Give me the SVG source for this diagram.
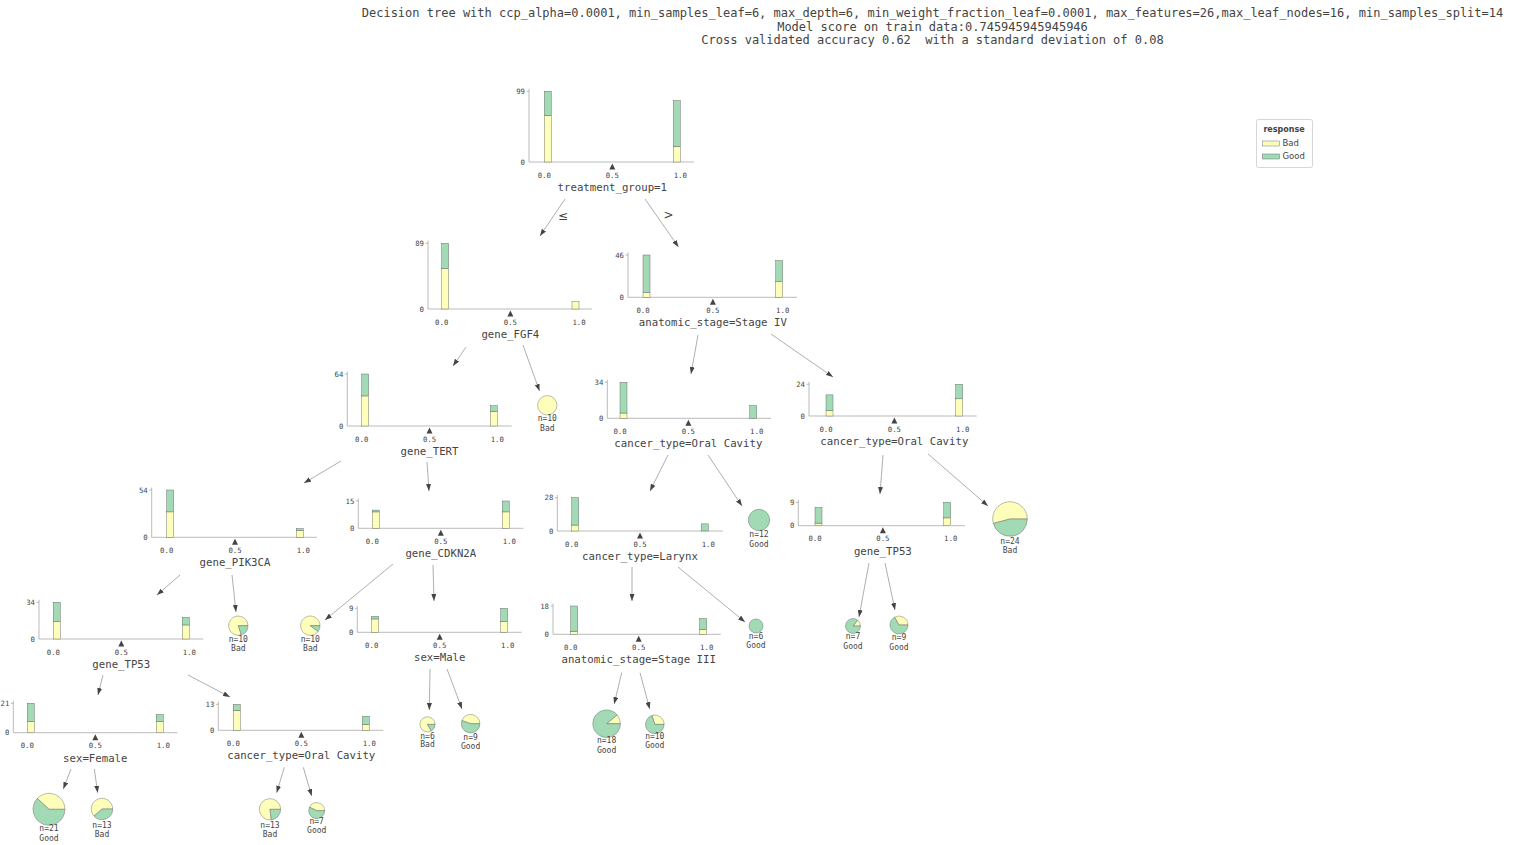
<svg xmlns="http://www.w3.org/2000/svg" width="1518" height="845" viewBox="0 0 1518 845">
<style>
.ax{stroke:#aaa;stroke-width:0.8;fill:none}
.bad{fill:#fefebb;stroke:#555;stroke-width:0.4}
.good{fill:#a1dab4;stroke:#555;stroke-width:0.4}
.yt{font-family:"DejaVu Sans Mono",monospace;font-size:7.3px;fill:#444;text-anchor:end}
.xt{font-family:"DejaVu Sans Mono",monospace;font-size:7.3px;fill:#444;text-anchor:middle}
.lbl{font-family:"DejaVu Sans Mono",monospace;font-size:10.7px;fill:#444;text-anchor:middle}
.lf{font-family:"DejaVu Sans Mono",monospace;font-size:8px;fill:#444;text-anchor:middle}
.tri{fill:#444}
.ttl{font-family:"DejaVu Sans Mono",monospace;font-size:12px;fill:#444;text-anchor:middle;white-space:pre}
.edge{stroke:#777;stroke-width:0.6;fill:none;marker-end:url(#ah)}
.el{font-family:"DejaVu Sans",sans-serif;font-size:12px;fill:#444;text-anchor:middle}
.lg{font-family:"DejaVu Sans",sans-serif;font-size:8.5px;fill:#444}
</style>
<defs>
<marker id="ah" markerUnits="userSpaceOnUse" markerWidth="7" markerHeight="5" refX="7" refY="2.5" orient="auto">
<path d="M0,0 L7,2.5 L0,5 z" fill="#444"/>
</marker>
</defs>
<rect width="1518" height="845" fill="#fff"/>
<g id="title">
<text class="ttl" x="932.5" y="17">Decision tree with ccp_alpha=0.0001, min_samples_leaf=6, max_depth=6, min_weight_fraction_leaf=0.0001, max_features=26,max_leaf_nodes=16, min_samples_split=14</text>
<text class="ttl" x="932.5" y="30.5">Model score on train data:0.745945945945946</text>
<text class="ttl" x="932.5" y="44" xml:space="preserve">Cross validated accuracy 0.62  with a standard deviation of 0.08</text>
</g>
<g id="legend">
<rect x="1256.5" y="119.5" width="56" height="48" rx="2" fill="#fff" stroke="#ccc" stroke-width="0.8"/>
<text x="1284" y="132" style="font-family:'DejaVu Sans',sans-serif;font-size:8px;font-weight:bold;fill:#444;text-anchor:middle">response</text>
<rect class="bad" x="1262.5" y="141" width="17" height="5"/>
<text class="lg" x="1282.5" y="146">Bad</text>
<rect class="good" x="1262.5" y="154" width="17" height="5"/>
<text class="lg" x="1282.5" y="159">Good</text>
</g>
<g id="edges">
<line class="edge" x1="565" y1="199" x2="540" y2="236"/>
<line class="edge" x1="645" y1="199" x2="678.5" y2="247"/>
<line class="edge" x1="466" y1="347" x2="453" y2="366"/>
<line class="edge" x1="523" y1="345" x2="539.5" y2="391"/>
<line class="edge" x1="698" y1="335" x2="691" y2="374"/>
<line class="edge" x1="771" y1="334" x2="833" y2="377"/>
<line class="edge" x1="341" y1="461" x2="304" y2="483"/>
<line class="edge" x1="427" y1="462" x2="429" y2="491"/>
<line class="edge" x1="668" y1="455" x2="650" y2="491"/>
<line class="edge" x1="708" y1="455" x2="742" y2="506"/>
<line class="edge" x1="883" y1="455" x2="880" y2="494"/>
<line class="edge" x1="928" y1="454" x2="988" y2="506"/>
<line class="edge" x1="180" y1="575" x2="157" y2="595"/>
<line class="edge" x1="232" y1="575" x2="236" y2="612"/>
<line class="edge" x1="393" y1="564" x2="325" y2="620"/>
<line class="edge" x1="433" y1="565" x2="434" y2="601"/>
<line class="edge" x1="632" y1="567" x2="632" y2="601"/>
<line class="edge" x1="678" y1="567" x2="745" y2="622"/>
<line class="edge" x1="869" y1="563" x2="859" y2="617"/>
<line class="edge" x1="885" y1="563" x2="895" y2="610"/>
<line class="edge" x1="103" y1="675" x2="98" y2="695"/>
<line class="edge" x1="188" y1="675" x2="230" y2="697"/>
<line class="edge" x1="430" y1="669" x2="429.3" y2="710"/>
<line class="edge" x1="447" y1="669" x2="462" y2="709"/>
<line class="edge" x1="621.7" y1="672.7" x2="614.2" y2="704"/>
<line class="edge" x1="640" y1="672.7" x2="649.7" y2="709"/>
<line class="edge" x1="71" y1="769" x2="63.3" y2="789"/>
<line class="edge" x1="94.3" y1="769" x2="97.7" y2="792.7"/>
<line class="edge" x1="284.3" y1="767.3" x2="276.7" y2="792.7"/>
<line class="edge" x1="303.3" y1="767.3" x2="311.7" y2="796"/>
<text class="el" x="563" y="220">≤</text>
<text class="el" x="668.5" y="219">&gt;</text>
</g>

<g id="n_treatment_group">
<line class="ax" x1="529" y1="162" x2="694" y2="162"/>
<line class="ax" x1="529" y1="88.8" x2="529" y2="162"/>
<line class="ax" x1="526.5" y1="91.3" x2="529" y2="91.3"/>
<text class="yt" x="525" y="93.8">99</text>
<text class="yt" x="525" y="164.5">0</text>
<rect class="bad" x="544.3" y="115.58" width="7" height="46.42"/>
<rect class="good" x="544.3" y="91.3" width="7" height="24.28"/>
<rect class="bad" x="673.3" y="146.29" width="7" height="15.71"/>
<rect class="good" x="673.3" y="100.59" width="7" height="45.70"/>
<text class="xt" x="544.3" y="177.5">0.0</text>
<text class="xt" x="612.3" y="177.5">0.5</text>
<text class="xt" x="680.3" y="177.5">1.0</text>
<polygon class="tri" points="609.3,169.5 615.3,169.5 612.3,163.5"/>
<text class="lbl" x="612.3" y="191">treatment_group=1</text>
</g>

<g id="n_gene_FGF4">
<line class="ax" x1="428" y1="309" x2="592" y2="309"/>
<line class="ax" x1="428" y1="240.8" x2="428" y2="309"/>
<line class="ax" x1="425.5" y1="243.3" x2="428" y2="243.3"/>
<text class="yt" x="424" y="245.8">89</text>
<text class="yt" x="424" y="311.5">0</text>
<rect class="bad" x="441.7" y="268.40" width="7" height="40.60"/>
<rect class="good" x="441.7" y="243.30" width="7" height="25.10"/>
<rect class="bad" x="572" y="301.62" width="7" height="7.38"/>
<text class="xt" x="441.7" y="324.5">0.0</text>
<text class="xt" x="510.35" y="324.5">0.5</text>
<text class="xt" x="579" y="324.5">1.0</text>
<polygon class="tri" points="507.35,316.5 513.35,316.5 510.35,310.5"/>
<text class="lbl" x="510.35" y="338">gene_FGF4</text>
</g>

<g id="n_anatomic_stage_IV">
<line class="ax" x1="628" y1="297.3" x2="797" y2="297.3"/>
<line class="ax" x1="628" y1="252.5" x2="628" y2="297.3"/>
<line class="ax" x1="625.5" y1="255" x2="628" y2="255"/>
<text class="yt" x="624" y="257.5">46</text>
<text class="yt" x="624" y="299.8">0</text>
<rect class="bad" x="643" y="292.70" width="7" height="4.60"/>
<rect class="good" x="643" y="255.0" width="7" height="37.70"/>
<rect class="bad" x="775.7" y="281.67" width="7" height="15.63"/>
<rect class="good" x="775.7" y="260.52" width="7" height="21.15"/>
<text class="xt" x="643" y="312.8">0.0</text>
<text class="xt" x="712.85" y="312.8">0.5</text>
<text class="xt" x="782.7" y="312.8">1.0</text>
<polygon class="tri" points="709.85,304.8 715.85,304.8 712.85,298.8"/>
<text class="lbl" x="712.85" y="326.3">anatomic_stage=Stage IV</text>
</g>

<g id="n_gene_TERT">
<line class="ax" x1="347.3" y1="426" x2="511.7" y2="426"/>
<line class="ax" x1="347.3" y1="371.5" x2="347.3" y2="426"/>
<line class="ax" x1="344.8" y1="374" x2="347.3" y2="374"/>
<text class="yt" x="343.3" y="376.5">64</text>
<text class="yt" x="343.3" y="428.5">0</text>
<rect class="bad" x="361.7" y="395.94" width="7" height="30.06"/>
<rect class="good" x="361.7" y="374.0" width="7" height="21.94"/>
<rect class="bad" x="490.3" y="411.37" width="7" height="14.63"/>
<rect class="good" x="490.3" y="405.69" width="7" height="5.69"/>
<text class="xt" x="361.7" y="441.5">0.0</text>
<text class="xt" x="429.5" y="441.5">0.5</text>
<text class="xt" x="497.3" y="441.5">1.0</text>
<polygon class="tri" points="426.5,433.5 432.5,433.5 429.5,427.5"/>
<text class="lbl" x="429.5" y="455">gene_TERT</text>
</g>

<g id="n_cancer_type_oc_left">
<line class="ax" x1="607.3" y1="418.3" x2="771" y2="418.3"/>
<line class="ax" x1="607.3" y1="379.8" x2="607.3" y2="418.3"/>
<line class="ax" x1="604.8" y1="382.3" x2="607.3" y2="382.3"/>
<text class="yt" x="603.3" y="384.8">34</text>
<text class="yt" x="603.3" y="420.8">0</text>
<rect class="bad" x="620" y="413.01" width="7" height="5.29"/>
<rect class="good" x="620" y="382.3" width="7" height="30.71"/>
<rect class="good" x="749.7" y="405.59" width="7" height="12.71"/>
<text class="xt" x="620" y="433.8">0.0</text>
<text class="xt" x="688.35" y="433.8">0.5</text>
<text class="xt" x="756.7" y="433.8">1.0</text>
<polygon class="tri" points="685.35,425.8 691.35,425.8 688.35,419.8"/>
<text class="lbl" x="688.35" y="447.3">cancer_type=Oral Cavity</text>
</g>

<g id="n_cancer_type_oc_right">
<line class="ax" x1="809" y1="416" x2="976.7" y2="416"/>
<line class="ax" x1="809" y1="381.8" x2="809" y2="416"/>
<line class="ax" x1="806.5" y1="384.3" x2="809" y2="384.3"/>
<text class="yt" x="805" y="386.8">24</text>
<text class="yt" x="805" y="418.5">0</text>
<rect class="bad" x="826" y="410.72" width="7" height="5.28"/>
<rect class="good" x="826" y="394.87" width="7" height="15.85"/>
<rect class="bad" x="955.7" y="398.83" width="7" height="17.17"/>
<rect class="good" x="955.7" y="384.30" width="7" height="14.53"/>
<text class="xt" x="826" y="431.5">0.0</text>
<text class="xt" x="894.35" y="431.5">0.5</text>
<text class="xt" x="962.7" y="431.5">1.0</text>
<polygon class="tri" points="891.35,423.5 897.35,423.5 894.35,417.5"/>
<text class="lbl" x="894.35" y="445">cancer_type=Oral Cavity</text>
</g>

<g id="n_gene_PIK3CA">
<line class="ax" x1="151.7" y1="537.3" x2="316.7" y2="537.3"/>
<line class="ax" x1="151.7" y1="487.5" x2="151.7" y2="537.3"/>
<line class="ax" x1="149.2" y1="490" x2="151.7" y2="490"/>
<text class="yt" x="147.7" y="492.5">54</text>
<text class="yt" x="147.7" y="539.8">0</text>
<rect class="bad" x="166.7" y="511.90" width="7" height="25.40"/>
<rect class="good" x="166.7" y="490.0" width="7" height="21.90"/>
<rect class="bad" x="296.3" y="530.29" width="7" height="7.01"/>
<rect class="good" x="296.3" y="528.54" width="7" height="1.75"/>
<text class="xt" x="166.7" y="552.8">0.0</text>
<text class="xt" x="235" y="552.8">0.5</text>
<text class="xt" x="303.3" y="552.8">1.0</text>
<polygon class="tri" points="232,544.8 238,544.8 235,538.8"/>
<text class="lbl" x="235" y="566.3">gene_PIK3CA</text>
</g>

<g id="n_gene_CDKN2A">
<line class="ax" x1="358.3" y1="528.3" x2="523.3" y2="528.3"/>
<line class="ax" x1="358.3" y1="498.5" x2="358.3" y2="528.3"/>
<line class="ax" x1="355.8" y1="501" x2="358.3" y2="501"/>
<text class="yt" x="354.3" y="503.5">15</text>
<text class="yt" x="354.3" y="530.8">0</text>
<rect class="bad" x="372.3" y="511.92" width="7" height="16.38"/>
<rect class="good" x="372.3" y="510.10" width="7" height="1.82"/>
<rect class="bad" x="502.3" y="511.92" width="7" height="16.38"/>
<rect class="good" x="502.3" y="501.0" width="7" height="10.92"/>
<text class="xt" x="372.3" y="543.8">0.0</text>
<text class="xt" x="440.8" y="543.8">0.5</text>
<text class="xt" x="509.3" y="543.8">1.0</text>
<polygon class="tri" points="437.8,535.8 443.8,535.8 440.8,529.8"/>
<text class="lbl" x="440.8" y="557.3">gene_CDKN2A</text>
</g>

<g id="n_cancer_type_larynx">
<line class="ax" x1="557.3" y1="531" x2="722.7" y2="531"/>
<line class="ax" x1="557.3" y1="495.2" x2="557.3" y2="531"/>
<line class="ax" x1="554.8" y1="497.7" x2="557.3" y2="497.7"/>
<text class="yt" x="553.3" y="500.2">28</text>
<text class="yt" x="553.3" y="533.5">0</text>
<rect class="bad" x="571.7" y="525.05" width="7" height="5.95"/>
<rect class="good" x="571.7" y="497.70" width="7" height="27.35"/>
<rect class="good" x="701.3" y="523.86" width="7" height="7.14"/>
<text class="xt" x="571.7" y="546.5">0.0</text>
<text class="xt" x="640" y="546.5">0.5</text>
<text class="xt" x="708.3" y="546.5">1.0</text>
<polygon class="tri" points="637,538.5 643,538.5 640,532.5"/>
<text class="lbl" x="640" y="560">cancer_type=Larynx</text>
</g>

<g id="n_gene_TP53_right">
<line class="ax" x1="798.3" y1="525.7" x2="965" y2="525.7"/>
<line class="ax" x1="798.3" y1="499.8" x2="798.3" y2="525.7"/>
<line class="ax" x1="795.8" y1="502.3" x2="798.3" y2="502.3"/>
<text class="yt" x="794.3" y="504.8">9</text>
<text class="yt" x="794.3" y="528.2">0</text>
<rect class="bad" x="815" y="523.1" width="7" height="2.6"/>
<rect class="good" x="815" y="507.5" width="7" height="15.6"/>
<rect class="bad" x="943.7" y="517.9" width="7" height="7.8"/>
<rect class="good" x="943.7" y="502.3" width="7" height="15.6"/>
<text class="xt" x="815" y="541.2">0.0</text>
<text class="xt" x="882.85" y="541.2">0.5</text>
<text class="xt" x="950.7" y="541.2">1.0</text>
<polygon class="tri" points="879.85,533.2 885.85,533.2 882.85,527.2"/>
<text class="lbl" x="882.85" y="554.7">gene_TP53</text>
</g>

<g id="n_gene_TP53_left">
<line class="ax" x1="39" y1="639" x2="203.3" y2="639"/>
<line class="ax" x1="39" y1="599.8" x2="39" y2="639"/>
<line class="ax" x1="36.5" y1="602.3" x2="39" y2="602.3"/>
<text class="yt" x="35" y="604.8">34</text>
<text class="yt" x="35" y="641.5">0</text>
<rect class="bad" x="53.3" y="621.73" width="7" height="17.27"/>
<rect class="good" x="53.3" y="602.30" width="7" height="19.43"/>
<rect class="bad" x="182.3" y="624.97" width="7" height="14.03"/>
<rect class="good" x="182.3" y="617.41" width="7" height="7.56"/>
<text class="xt" x="53.3" y="654.5">0.0</text>
<text class="xt" x="121.3" y="654.5">0.5</text>
<text class="xt" x="189.3" y="654.5">1.0</text>
<polygon class="tri" points="118.3,646.5 124.3,646.5 121.3,640.5"/>
<text class="lbl" x="121.3" y="668">gene_TP53</text>
</g>

<g id="n_sex_male">
<line class="ax" x1="357.3" y1="632.3" x2="521.7" y2="632.3"/>
<line class="ax" x1="357.3" y1="605.8" x2="357.3" y2="632.3"/>
<line class="ax" x1="354.8" y1="608.3" x2="357.3" y2="608.3"/>
<text class="yt" x="353.3" y="610.8">9</text>
<text class="yt" x="353.3" y="634.8">0</text>
<rect class="bad" x="371.7" y="618.97" width="7" height="13.33"/>
<rect class="good" x="371.7" y="616.30" width="7" height="2.67"/>
<rect class="bad" x="500.7" y="621.63" width="7" height="10.67"/>
<rect class="good" x="500.7" y="608.30" width="7" height="13.33"/>
<text class="xt" x="371.7" y="647.8">0.0</text>
<text class="xt" x="439.7" y="647.8">0.5</text>
<text class="xt" x="507.7" y="647.8">1.0</text>
<polygon class="tri" points="436.7,639.8 442.7,639.8 439.7,633.8"/>
<text class="lbl" x="439.7" y="661.3">sex=Male</text>
</g>

<g id="n_anatomic_stage_III">
<line class="ax" x1="553" y1="634.3" x2="720.7" y2="634.3"/>
<line class="ax" x1="553" y1="603.5" x2="553" y2="634.3"/>
<line class="ax" x1="550.5" y1="606" x2="553" y2="606"/>
<text class="yt" x="549" y="608.5">18</text>
<text class="yt" x="549" y="636.8">0</text>
<rect class="bad" x="570.7" y="631.16" width="7" height="3.14"/>
<rect class="good" x="570.7" y="606.0" width="7" height="25.16"/>
<rect class="bad" x="699.7" y="629.58" width="7" height="4.72"/>
<rect class="good" x="699.7" y="618.57" width="7" height="11.01"/>
<text class="xt" x="570.7" y="649.8">0.0</text>
<text class="xt" x="638.7" y="649.8">0.5</text>
<text class="xt" x="706.7" y="649.8">1.0</text>
<polygon class="tri" points="635.7,641.8 641.7,641.8 638.7,635.8"/>
<text class="lbl" x="638.7" y="663.3">anatomic_stage=Stage III</text>
</g>

<g id="n_sex_female">
<line class="ax" x1="13.3" y1="732.7" x2="177.3" y2="732.7"/>
<line class="ax" x1="13.3" y1="700.8" x2="13.3" y2="732.7"/>
<line class="ax" x1="10.8" y1="703.3" x2="13.3" y2="703.3"/>
<text class="yt" x="9.3" y="705.8">21</text>
<text class="yt" x="9.3" y="735.2">0</text>
<rect class="bad" x="27.3" y="721.5" width="7" height="11.2"/>
<rect class="good" x="27.3" y="703.3" width="7" height="18.2"/>
<rect class="bad" x="156.3" y="721.5" width="7" height="11.2"/>
<rect class="good" x="156.3" y="714.5" width="7" height="7.0"/>
<text class="xt" x="27.3" y="748.2">0.0</text>
<text class="xt" x="95.3" y="748.2">0.5</text>
<text class="xt" x="163.3" y="748.2">1.0</text>
<polygon class="tri" points="92.3,740.2 98.3,740.2 95.3,734.2"/>
<text class="lbl" x="95.3" y="761.7">sex=Female</text>
</g>

<g id="n_cancer_type_oc_bottom">
<line class="ax" x1="218.3" y1="730.3" x2="383.3" y2="730.3"/>
<line class="ax" x1="218.3" y1="701.8" x2="218.3" y2="730.3"/>
<line class="ax" x1="215.8" y1="704.3" x2="218.3" y2="704.3"/>
<text class="yt" x="214.3" y="706.8">13</text>
<text class="yt" x="214.3" y="732.8">0</text>
<rect class="bad" x="233.3" y="710.3" width="7" height="20"/>
<rect class="good" x="233.3" y="704.3" width="7" height="6"/>
<rect class="bad" x="362.3" y="724.3" width="7" height="6"/>
<rect class="good" x="362.3" y="716.3" width="7" height="8"/>
<text class="xt" x="233.3" y="745.8">0.0</text>
<text class="xt" x="301.3" y="745.8">0.5</text>
<text class="xt" x="369.3" y="745.8">1.0</text>
<polygon class="tri" points="298.3,737.8 304.3,737.8 301.3,731.8"/>
<text class="lbl" x="301.3" y="759.3">cancer_type=Oral Cavity</text>
</g>

<g id="leaf_fgf4">
<circle class="bad" cx="547.3" cy="405.3" r="9.7"/>
<text class="lf" x="547.3" y="421">n=10</text>
<text class="lf" x="547.3" y="430.5">Bad</text>
</g>
<g id="leaf_pik3ca">
<path class="bad" d="M238.3,625.7 L248,625.7 A9.7,9.7 0 1 0 241.3,634.9 Z"/>
<path class="good" d="M238.3,625.7 L241.3,634.9 A9.7,9.7 0 0 0 248,625.7 Z"/>
<text class="lf" x="238.3" y="642">n=10</text>
<text class="lf" x="238.3" y="650.5">Bad</text>
</g>
<g id="leaf_cdkn2a">
<path class="bad" d="M310.3,625.7 L320,625.7 A9.7,9.7 0 1 0 318.15,631.4 Z"/>
<path class="good" d="M310.3,625.7 L318.15,631.4 A9.7,9.7 0 0 0 320,625.7 Z"/>
<text class="lf" x="310.3" y="642">n=10</text>
<text class="lf" x="310.3" y="650.5">Bad</text>
</g>
<g id="leaf_n12">
<circle class="good" cx="759" cy="520" r="10.7"/>
<text class="lf" x="759" y="537">n=12</text>
<text class="lf" x="759" y="546.5">Good</text>
</g>
<g id="leaf_n24">
<path class="bad" d="M1010,519 L1027.3,519 A17.3,17.3 0 1 0 993.29,523.48 Z"/>
<path class="good" d="M1010,519 L993.29,523.48 A17.3,17.3 0 0 0 1027.3,519 Z"/>
<text class="lf" x="1010" y="543.5">n=24</text>
<text class="lf" x="1010" y="553">Bad</text>
</g>
<g id="leaf_n6_good">
<circle class="good" cx="756" cy="626" r="7"/>
<text class="lf" x="756" y="638.8">n=6</text>
<text class="lf" x="756" y="648">Good</text>
</g>
<g id="leaf_n7_right">
<path class="bad" d="M853,626 L860.5,626 A7.5,7.5 0 0 0 857.68,620.14 Z"/>
<path class="good" d="M853,626 L857.68,620.14 A7.5,7.5 0 1 0 860.5,626 Z"/>
<text class="lf" x="853" y="639.3">n=7</text>
<text class="lf" x="853" y="648.5">Good</text>
</g>
<g id="leaf_n9_right">
<path class="bad" d="M899,625 L908,625 A9,9 0 0 0 894.5,617.2 Z"/>
<path class="good" d="M899,625 L894.5,617.2 A9,9 0 1 0 908,625 Z"/>
<text class="lf" x="899" y="640.3">n=9</text>
<text class="lf" x="899" y="649.5">Good</text>
</g>
<g id="leaf_n21">
<path class="bad" d="M49,809.3 L65,809.3 A16,16 0 0 0 37.27,798.4 Z"/>
<path class="good" d="M49,809.3 L37.27,798.4 A16,16 0 1 0 65,809.3 Z"/>
<text class="lf" x="49" y="831.3">n=21</text>
<text class="lf" x="49" y="840.5">Good</text>
</g>
<g id="leaf_n13_female">
<path class="bad" d="M102,809 L112.7,809 A10.7,10.7 0 1 0 93.99,816.09 Z"/>
<path class="good" d="M102,809 L93.99,816.09 A10.7,10.7 0 0 0 112.7,809 Z"/>
<text class="lf" x="102" y="828">n=13</text>
<text class="lf" x="102" y="836.5">Bad</text>
</g>
<g id="leaf_n13_cancer">
<path class="bad" d="M270,809.3 L280.7,809.3 A10.7,10.7 0 1 0 271.28,819.92 Z"/>
<path class="good" d="M270,809.3 L271.28,819.92 A10.7,10.7 0 0 0 280.7,809.3 Z"/>
<text class="lf" x="270" y="828">n=13</text>
<text class="lf" x="270" y="836.5">Bad</text>
</g>
<g id="leaf_n7_cancer">
<path class="bad" d="M316.7,810.7 L324.7,810.7 A8,8 0 0 0 309.49,807.23 Z"/>
<path class="good" d="M316.7,810.7 L309.49,807.23 A8,8 0 1 0 324.7,810.7 Z"/>
<text class="lf" x="316.7" y="824">n=7</text>
<text class="lf" x="316.7" y="833.2">Good</text>
</g>
<g id="leaf_n6_bad">
<path class="bad" d="M427.5,724.4 L435.1,724.4 A7.6,7.6 0 1 0 431.3,730.98 Z"/>
<path class="good" d="M427.5,724.4 L431.3,730.98 A7.6,7.6 0 0 0 435.1,724.4 Z"/>
<text class="lf" x="427.5" y="738.6">n=6</text>
<text class="lf" x="427.5" y="747.3">Bad</text>
</g>
<g id="leaf_n9_male">
<path class="bad" d="M470.6,723.7 L479.9,723.7 A9.3,9.3 0 0 0 461.86,720.52 Z"/>
<path class="good" d="M470.6,723.7 L461.86,720.52 A9.3,9.3 0 1 0 479.9,723.7 Z"/>
<text class="lf" x="470.6" y="739.6">n=9</text>
<text class="lf" x="470.6" y="749">Good</text>
</g>
<g id="leaf_n18">
<path class="bad" d="M606.6,723.7 L620.4,723.7 A13.8,13.8 0 0 0 617.17,714.83 Z"/>
<path class="good" d="M606.6,723.7 L617.17,714.83 A13.8,13.8 0 1 0 620.4,723.7 Z"/>
<text class="lf" x="606.6" y="743.3">n=18</text>
<text class="lf" x="606.6" y="752.5">Good</text>
</g>
<g id="leaf_n10_good">
<path class="bad" d="M654.8,724.4 L664.1,724.4 A9.3,9.3 0 0 0 651.93,715.56 Z"/>
<path class="good" d="M654.8,724.4 L651.93,715.56 A9.3,9.3 0 1 0 664.1,724.4 Z"/>
<text class="lf" x="654.8" y="738.8">n=10</text>
<text class="lf" x="654.8" y="747.8">Good</text>
</g>
</svg>
